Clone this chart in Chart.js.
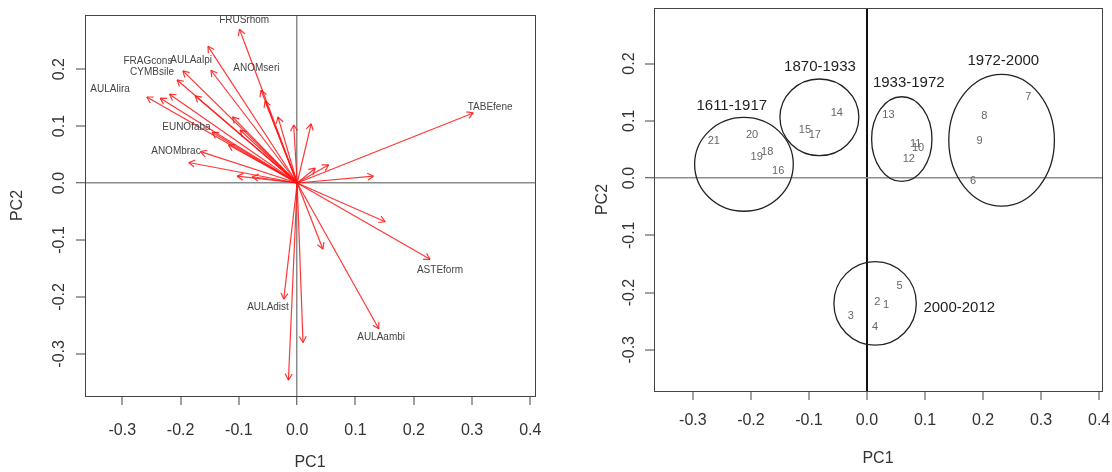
<!DOCTYPE html>
<html>
<head>
<meta charset="utf-8">
<script src="https://cdn.jsdelivr.net/npm/chart.js@4.4.1/dist/chart.umd.min.js"></script>
<style>
  html, body { margin: 0; padding: 0; background: #fff; }
  .panel { position: absolute; top: 0; width: 556px; height: 472px; }
  #left { left: 0; }
  #right { left: 556px; }
</style>
</head>
<body>
<div class="panel" id="left"><canvas id="biplot" width="556" height="472"></canvas></div>
<div class="panel" id="right"><canvas id="scores" width="556" height="472"></canvas></div>
<script>
// variable loadings (arrow tips), PC1 / PC2
const loadX = [-0.099, -0.153, -0.148, -0.196, -0.206, -0.258, -0.235, -0.219, -0.175, -0.062, -0.055,
  -0.033, -0.006, 0.024, -0.111, -0.098, -0.146, -0.118, -0.166, -0.186, -0.103, -0.077,
  0.302, 0.054, 0.031, 0.131, 0.151, 0.228, 0.044, -0.023, 0.140, 0.010, -0.015];
const loadY = [0.270, 0.240, 0.198, 0.197, 0.181, 0.151, 0.149, 0.156, 0.153, 0.163, 0.144,
  0.116, 0.102, 0.104, 0.116, 0.093, 0.089, 0.067, 0.055, 0.036, 0.012, 0.011,
  0.123, 0.032, 0.026, 0.012, -0.068, -0.134, -0.116, -0.204, -0.256, -0.280, -0.346];

// the variables that got a name on the plot
const varNames = ['FRUSrhom', 'AULAalpi', 'FRAGcons', 'CYMBsile', 'ANOMseri', 'AULAlira',
  'EUNOfaba', 'ANOMbrac', 'TABEfene', 'ASTEform', 'AULAdist', 'AULAambi'];
const varLabelX = [-0.091, -0.182, -0.256, -0.249, -0.070, -0.321, -0.190, -0.208, 0.331, 0.245, -0.050, 0.144];
const varLabelY = [0.286, 0.216, 0.214, 0.195, 0.202, 0.165, 0.098, 0.056, 0.133, -0.153, -0.219, -0.270];

// sample scores 1..21
const sampleIds = ['1', '2', '3', '4', '5', '6', '7', '8', '9', '10', '11', '12', '13', '14', '15', '16', '17', '18', '19', '20', '21'];
const scoreX = [0.033, 0.018, -0.028, 0.014, 0.056, 0.183, 0.278, 0.202, 0.194, 0.088, 0.084,
  0.072, 0.037, -0.052, -0.107, -0.153, -0.090, -0.172, -0.190, -0.198, -0.264];
const scoreY = [-0.222, -0.216, -0.241, -0.261, -0.188, -0.006, 0.141, 0.109, 0.065, 0.052, 0.059,
  0.033, 0.111, 0.113, 0.084, 0.012, 0.075, 0.045, 0.037, 0.076, 0.065];

// period groups: ring centre, ring half-widths, label spot
const periods = ['1611-1917', '1870-1933', '1933-1972', '1972-2000', '2000-2012'];
const periodCx = [-0.212, -0.082, 0.060, 0.232, 0.014];
const periodCy = [0.024, 0.106, 0.068, 0.066, -0.219];
const periodRx = [0.085, 0.068, 0.052, 0.091, 0.071];
const periodRy = [0.082, 0.067, 0.074, 0.115, 0.073];
const periodLabelX = [-0.233, -0.081, 0.072, 0.235, 0.159];
const periodLabelY = [0.126, 0.195, 0.166, 0.205, -0.226];

const pc1Ticks = [-0.3, -0.2, -0.1, 0.0, 0.1, 0.2, 0.3, 0.4];
const pc2Ticks = [-0.3, -0.2, -0.1, 0.0, 0.1, 0.2];

const FONT = '"Liberation Sans", Arial, Helvetica, sans-serif';

function axis(o) {
  const horizontal = o.position === 'bottom';
  return {
    type: 'linear',
    position: o.position,
    min: o.min,
    max: o.max,
    bounds: 'data',
    afterBuildTicks: function (scale) {
      scale.ticks = o.ticks.map(function (v) { return { value: v }; });
    },
    afterFit: function (scale) {
      if (horizontal) scale.height = o.size; else scale.width = o.size;
      scale.paddingLeft = 0; scale.paddingRight = 0;
      scale.paddingTop = 0; scale.paddingBottom = 0;
    },
    grid: {
      drawOnChartArea: true,
      drawTicks: true,
      tickLength: 9,
      tickColor: '#444',
      tickWidth: 1,
      color: function (c) { return c.tick && c.tick.value === 0 ? o.zeroColor : 'rgba(0,0,0,0)'; },
      lineWidth: function (c) { return c.tick && c.tick.value === 0 ? o.zeroWidth : 0; }
    },
    border: { display: false },
    ticks: {
      autoSkip: false,
      padding: o.tickPad,
      color: '#333',
      font: { family: FONT, size: 16 },
      minRotation: horizontal ? 0 : 90,
      maxRotation: horizontal ? 0 : 90,
      crossAlign: horizontal ? 'near' : 'center',
      callback: function (v) { return v.toFixed(1); }
    },
    title: {
      display: true,
      text: o.title,
      color: '#333',
      font: { family: FONT, size: 16 },
      padding: o.titlePad
    }
  };
}

// open V heads on the loading arrows
const arrowHeads = {
  id: 'arrowHeads',
  afterDatasetsDraw: function (chart) {
    const ctx = chart.ctx;
    chart.data.datasets.forEach(function (ds, i) {
      if (!ds.arrowHead) return;
      const pts = chart.getDatasetMeta(i).data;
      const a = pts[0], b = pts[1];
      const ang = Math.atan2(b.y - a.y, b.x - a.x);
      ctx.save();
      ctx.strokeStyle = ds.borderColor;
      ctx.lineWidth = ds.borderWidth;
      ctx.beginPath();
      [-1, 1].forEach(function (s) {
        ctx.moveTo(b.x, b.y);
        ctx.lineTo(b.x - 7 * Math.cos(ang + s * Math.PI / 6), b.y - 7 * Math.sin(ang + s * Math.PI / 6));
      });
      ctx.stroke();
      ctx.restore();
    });
  }
};

// text drawn at the points of datasets that carry textLabels
const pointText = {
  id: 'pointText',
  afterDatasetsDraw: function (chart) {
    const ctx = chart.ctx;
    chart.data.datasets.forEach(function (ds, i) {
      if (!ds.textLabels) return;
      ctx.save();
      ctx.font = ds.textFont;
      ctx.fillStyle = ds.textColor;
      ctx.textAlign = 'center';
      ctx.textBaseline = 'middle';
      chart.getDatasetMeta(i).data.forEach(function (p, j) {
        ctx.fillText(ds.textLabels[j], p.x, p.y);
      });
      ctx.restore();
    });
  }
};

const periodRings = {
  id: 'periodRings',
  afterDatasetsDraw: function (chart) {
    const ctx = chart.ctx, xs = chart.scales.x, ys = chart.scales.y;
    ctx.save();
    ctx.strokeStyle = '#222';
    ctx.lineWidth = 1.3;
    periods.forEach(function (p, i) {
      const cx = xs.getPixelForValue(periodCx[i]);
      const cy = ys.getPixelForValue(periodCy[i]);
      const rx = Math.abs(xs.getPixelForValue(periodCx[i] + periodRx[i]) - cx);
      const ry = Math.abs(ys.getPixelForValue(periodCy[i] + periodRy[i]) - cy);
      ctx.beginPath();
      ctx.ellipse(cx, cy, rx, ry, 0, 0, 2 * Math.PI);
      ctx.stroke();
    });
    ctx.restore();
  }
};

const frame = {
  id: 'frame',
  afterDraw: function (chart) {
    const a = chart.chartArea, ctx = chart.ctx;
    ctx.save();
    ctx.strokeStyle = '#444';
    ctx.lineWidth = 1;
    ctx.strokeRect(Math.round(a.left) + 0.5, Math.round(a.top) + 0.5,
      Math.round(a.right - a.left), Math.round(a.bottom - a.top));
    ctx.restore();
  }
};

function baseOptions(pad, xAxis, yAxis) {
  return {
    responsive: false,
    animation: false,
    devicePixelRatio: 1,
    layout: { padding: pad, autoPadding: false },
    plugins: { legend: { display: false }, tooltip: { enabled: false } },
    scales: { x: xAxis, y: yAxis }
  };
}

// left: loadings biplot
const arrowSets = loadX.map(function (x, i) {
  return {
    data: [{ x: 0, y: 0 }, { x: x, y: loadY[i] }],
    showLine: true,
    borderColor: 'rgba(255,20,20,0.85)',
    borderWidth: 1.2,
    pointRadius: 0,
    arrowHead: true
  };
});
const nameSet = {
  data: varLabelX.map(function (x, i) { return { x: x, y: varLabelY[i] }; }),
  pointRadius: 0,
  textLabels: varNames,
  textFont: '10px ' + FONT,
  textColor: '#444'
};

new Chart(document.getElementById('biplot'), {
  type: 'scatter',
  data: { datasets: arrowSets.concat([nameSet]) },
  options: baseOptions({ left: 0, right: 21, top: 15, bottom: 0 },
    axis({ position: 'bottom', min: -0.364, max: 0.408, ticks: pc1Ticks, size: 76, tickPad: 16,
      title: 'PC1', titlePad: { top: 0, bottom: 0 }, zeroColor: '#8c8c8c', zeroWidth: 1.5 }),
    axis({ position: 'left', min: -0.374, max: 0.295, ticks: pc2Ticks, size: 85, tickPad: 3,
      title: 'PC2', titlePad: { top: 8, bottom: 0 }, zeroColor: '#8c8c8c', zeroWidth: 1.5 })),
  plugins: [arrowHeads, pointText, frame]
});

// right: sample scores with period rings
const scoreSet = {
  data: scoreX.map(function (x, i) { return { x: x, y: scoreY[i] }; }),
  pointRadius: 0,
  textLabels: sampleIds,
  textFont: '11px ' + FONT,
  textColor: '#666'
};
const periodSet = {
  data: periodLabelX.map(function (x, i) { return { x: x, y: periodLabelY[i] }; }),
  pointRadius: 0,
  textLabels: periods,
  textFont: '15px ' + FONT,
  textColor: '#222'
};

new Chart(document.getElementById('scores'), {
  type: 'scatter',
  data: { datasets: [scoreSet, periodSet] },
  options: baseOptions({ left: 0, right: 10, top: 8, bottom: 0 },
    axis({ position: 'bottom', min: -0.367, max: 0.405, ticks: pc1Ticks, size: 81, tickPad: 11,
      title: 'PC1', titlePad: { top: 0, bottom: 4 }, zeroColor: '#111', zeroWidth: 2 }),
    axis({ position: 'left', min: -0.372, max: 0.297, ticks: pc2Ticks, size: 98, tickPad: 2,
      title: 'PC2', titlePad: { top: 37, bottom: 0 }, zeroColor: '#8c8c8c', zeroWidth: 1.5 })),
  plugins: [periodRings, pointText, frame]
});
</script>
</body>
</html>
